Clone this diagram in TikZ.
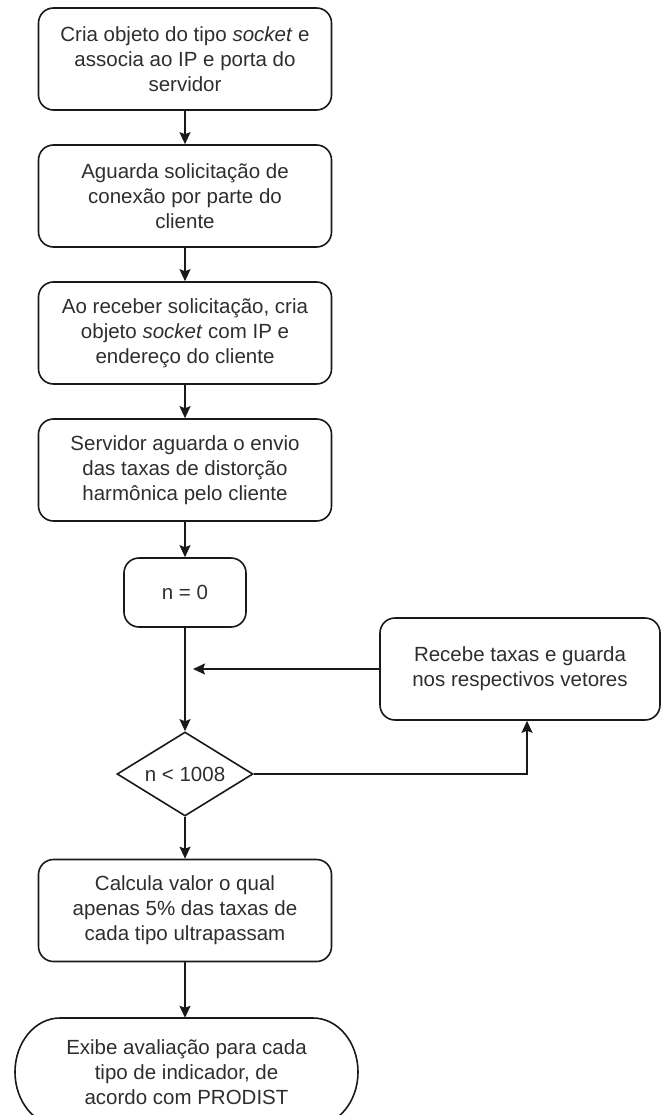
\documentclass[tikz,border=0pt]{standalone}
\usepackage{fontspec}
\setmainfont{Liberation Sans}
\usetikzlibrary{arrows.meta,shapes.geometric,calc}
\begin{document}
\begin{tikzpicture}[x=1pt,y=-1pt,
  every node/.style={font=\fontsize{20.5}{25}\selectfont, text=black!82, align=center},
  procbox/.style={draw=black!90, line width=1.6pt, rounded corners=15pt, minimum width=293pt, minimum height=102pt, inner sep=0pt},
  decbox/.style={draw=black!90, line width=1.6pt, diamond, aspect=1.62, minimum width=136pt, minimum height=84pt, inner sep=0pt},
  link/.style={draw=black!90, line width=1.6pt, -{Stealth[length=12pt,width=11pt,inset=2pt]}},
  plain/.style={draw=black!90, line width=1.6pt}
]
\useasboundingbox (0,0) rectangle (662,1115);
\node[procbox] (b1) at (185,59) {Cria objeto do tipo \textit{socket} e\\associa ao IP e porta do\\servidor};
\node[procbox] (b2) at (185,196) {Aguarda solicitação de\\conexão por parte do\\cliente};
\node[procbox] (b3) at (185,333) {Ao receber solicitação, cria\\objeto \textit{socket} com IP e\\endereço do cliente};
\node[procbox] (b4) at (185,470) {Servidor aguarda o envio\\das taxas de distorção\\harmônica pelo cliente};
\node[procbox, minimum width=122pt, minimum height=69pt] (n0) at (185,592.5) {n = 0};
\node[procbox, minimum width=280pt, minimum height=102pt] (rec) at (520,669) {Recebe taxas e guarda\\nos respectivos vetores};
\node[decbox] (dec) at (185,774) {n < 1008};
\node[procbox] (calc) at (185,910.5) {Calcula valor o qual\\apenas 5\% das taxas de\\cada tipo ultrapassam};
\node[minimum width=343pt, minimum height=108pt, inner sep=0pt] (end) at (186.5,1072) {Exibe avaliação para cada\\tipo de indicador, de\\acordo com PRODIST};
\draw[plain] ($(end.center)+(-126.5,-54)$) -- ($(end.center)+(126.5,-54)$)
  arc[start angle=90, end angle=-90, x radius=45pt, y radius=54pt]
  -- ($(end.center)+(-126.5,54)$)
  arc[start angle=270, end angle=90, x radius=45pt, y radius=54pt] -- cycle;
\coordinate (loopin) at ($(n0.south)!0.5!(dec.north)$);
\coordinate (looptip) at (loopin -| 193,0);
\coordinate (corner) at (527,0 |- dec.east);
\draw[link] (b1) -- (b2);
\draw[link] (b2) -- (b3);
\draw[link] (b3) -- (b4);
\draw[link] (b4) -- (n0);
\draw[link] (n0) -- (dec);
\draw[link] (rec.west |- 0,669) -- (193,669);
\draw[link] (dec.east) -- (corner) -- (corner |- rec.south);
\draw[link] (dec) -- (calc);
\draw[link] (calc.south) -- (calc.south |- end.north);
\end{tikzpicture}
\end{document}
